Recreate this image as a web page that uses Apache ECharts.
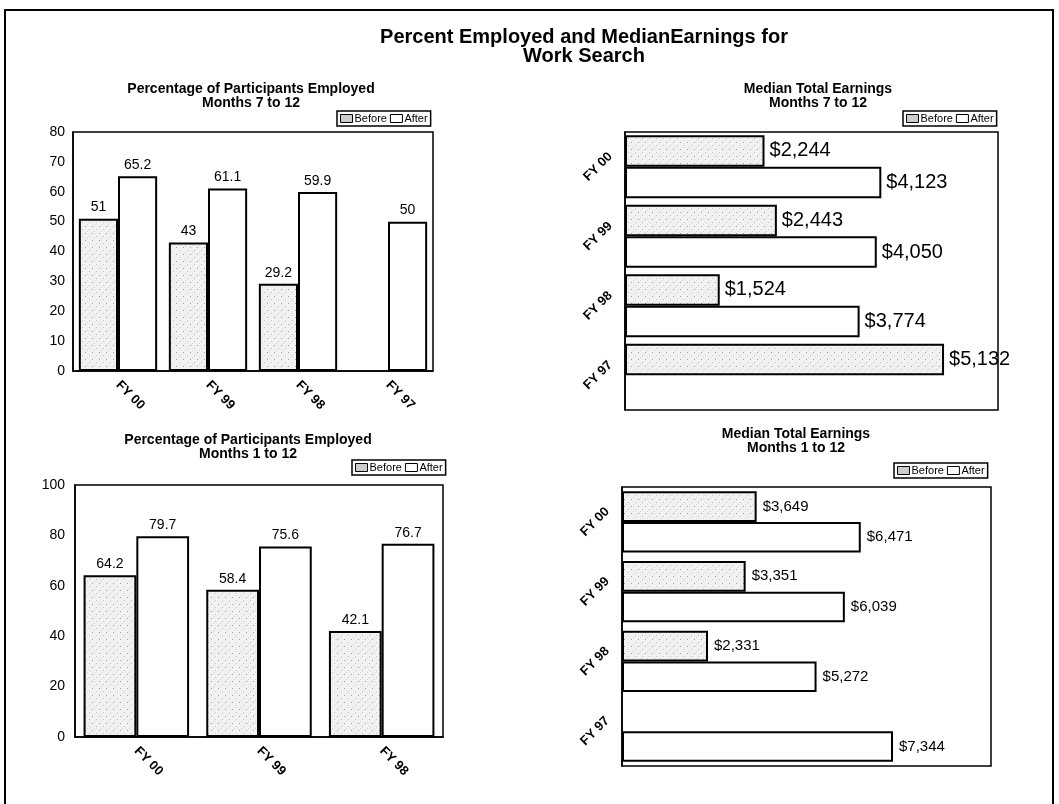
<!DOCTYPE html>
<html>
<head>
<meta charset="utf-8">
<script src="https://cdn.jsdelivr.net/npm/echarts@6/dist/echarts.min.js"></script>
<style>
  html, body { margin: 0; padding: 0; background: #fff; }
  #chart { width: 1059px; height: 804px; }
  #frame { position: absolute; left: 4px; top: 9px; width: 1046px; height: 800px; border: 2px solid #000; pointer-events: none; }
</style>
</head>
<body>
<div id="chart"></div>
<div id="frame"></div>
<script>
// ---- data ----
const pctCategories712 = ['FY 00', 'FY 99', 'FY 98', 'FY 97'];
const pctBefore712 = [51, 43, 29.2, null];
const pctAfter712 = [65.2, 61.1, 59.9, 50];
const pctTicks712 = [0, 10, 20, 30, 40, 50, 60, 70, 80];

const earnCategories712 = ['FY 00', 'FY 99', 'FY 98', 'FY 97'];
const earnBefore712 = [2244, 2443, 1524, 5132];
const earnAfter712 = [4123, 4050, 3774, null];
const earnMax712 = 6000;

const pctCategories112 = ['FY 00', 'FY 99', 'FY 98'];
const pctBefore112 = [64.2, 58.4, 42.1];
const pctAfter112 = [79.7, 75.6, 76.7];
const pctTicks112 = [0, 20, 40, 60, 80, 100];

const earnCategories112 = ['FY 00', 'FY 99', 'FY 98', 'FY 97'];
const earnBefore112 = [3649, 3351, 2331, null];
const earnAfter112 = [6471, 6039, 5272, 7344];
const earnMax112 = 10000;

// ---- styles ----
const FONT = '"Liberation Sans", Arial, Helvetica, sans-serif';
function makePattern() {
  const c = document.createElement('canvas');
  c.width = 7; c.height = 7;
  const g = c.getContext('2d');
  g.fillStyle = '#f1f1f1'; g.fillRect(0, 0, 7, 7);
  g.fillStyle = '#a0a0a0'; g.fillRect(1, 2, 1, 1);
  g.fillStyle = '#c4c4c4'; g.fillRect(5, 5, 1, 1);
  g.fillStyle = '#d4d4d4'; g.fillRect(3, 0, 1, 1);
  return c;
}
const beforeFill = { image: makePattern(), repeat: 'repeat' };
const beforeStyle = { color: beforeFill, borderColor: '#000', borderWidth: 2 };
const afterStyle = { color: '#fff', borderColor: '#000', borderWidth: 2 };

const pctFmt = p => (p.value == null ? '' : String(p.value));
const dollarFmt = p => (p.value == null ? '' : '$' + Number(p.value).toLocaleString('en-US'));

function subTitle(text, x, y) {
  return {
    text: text, left: x, top: y, textAlign: 'center',
    textStyle: { fontFamily: FONT, fontSize: 14, fontWeight: 'bold', color: '#000', lineHeight: 14 }
  };
}
function legendAt(x, y) {
  return {
    left: x, top: y, orient: 'horizontal',
    data: [
      { name: 'Before', itemStyle: { color: '#cccccc', borderColor: '#000', borderWidth: 1 } },
      { name: 'After', itemStyle: { color: '#ffffff', borderColor: '#000', borderWidth: 1 } }
    ],
    icon: 'rect',
    itemWidth: 12, itemHeight: 8, itemGap: 3,
    padding: [2, 3, 2, 3],
    borderColor: '#000', borderWidth: 1.5,
    selectedMode: false,
    textStyle: { fontFamily: FONT, fontSize: 11, color: '#000', padding: [0, 0, 0, -3] }
  };
}
const gridBox = { show: true, borderColor: '#000', borderWidth: 1.5, backgroundColor: 'transparent', containLabel: false };
const catLabelX = { rotate: -45, margin: 12, fontFamily: FONT, fontSize: 13, fontWeight: 'bold', color: '#000' };
const catLabelY = { rotate: 45, align: 'center', margin: 27, fontFamily: FONT, fontSize: 13, fontWeight: 'bold', color: '#000' };

const chart = echarts.init(document.getElementById('chart'), null, { renderer: 'canvas' });
chart.setOption({
  animation: false,
  backgroundColor: '#fff',
  title: [
    { text: 'Percent Employed and MedianEarnings for\nWork Search', left: 579, top: 23, textAlign: 'center',
      textStyle: { fontFamily: FONT, fontSize: 20, fontWeight: 'bold', color: '#000', lineHeight: 19 } },
    subTitle('Percentage of Participants Employed\nMonths 7 to 12', 246, 77),
    subTitle('Median Total Earnings\nMonths 7 to 12', 813, 77),
    subTitle('Percentage of Participants Employed\nMonths 1 to 12', 243, 428),
    subTitle('Median Total Earnings\nMonths 1 to 12', 791, 422)
  ],
  legend: [legendAt(337, 111), legendAt(903, 111), legendAt(352, 460), legendAt(894, 463)],
  grid: [
    Object.assign({ left: 73, top: 132, width: 360, height: 239 }, gridBox),
    Object.assign({ left: 625, top: 132, width: 373, height: 278 }, gridBox),
    Object.assign({ left: 75, top: 485, width: 368, height: 252 }, gridBox),
    Object.assign({ left: 622, top: 487, width: 369, height: 279 }, gridBox)
  ],
  xAxis: [
    { gridIndex: 0, type: 'category', data: pctCategories712,
      axisLine: { lineStyle: { color: '#000', width: 1.5 } }, axisTick: { show: false }, axisLabel: catLabelX },
    { gridIndex: 1, type: 'value', min: 0, max: earnMax712, show: false, splitLine: { show: false } },
    { gridIndex: 2, type: 'category', data: pctCategories112,
      axisLine: { lineStyle: { color: '#000', width: 1.5 } }, axisTick: { show: false }, axisLabel: catLabelX },
    { gridIndex: 3, type: 'value', min: 0, max: earnMax112, show: false, splitLine: { show: false } }
  ],
  yAxis: [
    { gridIndex: 0, type: 'value', min: pctTicks712[0], max: pctTicks712[pctTicks712.length - 1],
      interval: pctTicks712[1] - pctTicks712[0],
      axisLine: { show: true, lineStyle: { color: '#000', width: 1.5 } }, axisTick: { show: false }, splitLine: { show: false },
      axisLabel: { margin: 8, fontFamily: FONT, fontSize: 14, color: '#000' } },
    { gridIndex: 1, type: 'category', data: earnCategories712, inverse: true,
      axisLine: { lineStyle: { color: '#000', width: 1.5 } }, axisTick: { show: false }, axisLabel: catLabelY },
    { gridIndex: 2, type: 'value', min: pctTicks112[0], max: pctTicks112[pctTicks112.length - 1],
      interval: pctTicks112[1] - pctTicks112[0],
      axisLine: { show: true, lineStyle: { color: '#000', width: 1.5 } }, axisTick: { show: false }, splitLine: { show: false },
      axisLabel: { margin: 10, fontFamily: FONT, fontSize: 14, color: '#000' } },
    { gridIndex: 3, type: 'category', data: earnCategories112, inverse: true,
      axisLine: { lineStyle: { color: '#000', width: 1.5 } }, axisTick: { show: false }, axisLabel: catLabelY }
  ],
  series: [
    { name: 'Before', type: 'bar', xAxisIndex: 0, yAxisIndex: 0, data: pctBefore712, itemStyle: beforeStyle,
      barGap: '0%', barCategoryGap: '13%',
      label: { show: true, position: 'top', distance: 4, formatter: pctFmt, fontFamily: FONT, fontSize: 14, color: '#000' } },
    { name: 'After', type: 'bar', xAxisIndex: 0, yAxisIndex: 0, data: pctAfter712, itemStyle: afterStyle,
      barGap: '0%', barCategoryGap: '13%',
      label: { show: true, position: 'top', distance: 4, formatter: pctFmt, fontFamily: FONT, fontSize: 14, color: '#000' } },

    { name: 'Before', type: 'bar', xAxisIndex: 1, yAxisIndex: 1, data: earnBefore712, itemStyle: beforeStyle,
      barGap: '0%', barCategoryGap: '9%',
      label: { show: true, position: 'right', distance: 5, formatter: dollarFmt, fontFamily: FONT, fontSize: 20, color: '#000' } },
    { name: 'After', type: 'bar', xAxisIndex: 1, yAxisIndex: 1, data: earnAfter712, itemStyle: afterStyle,
      barGap: '0%', barCategoryGap: '9%',
      label: { show: true, position: 'right', distance: 5, formatter: dollarFmt, fontFamily: FONT, fontSize: 20, color: '#000' } },

    { name: 'Before', type: 'bar', xAxisIndex: 2, yAxisIndex: 2, data: pctBefore112, itemStyle: beforeStyle,
      barGap: '0%', barCategoryGap: '14%',
      label: { show: true, position: 'top', distance: 4, formatter: pctFmt, fontFamily: FONT, fontSize: 14, color: '#000' } },
    { name: 'After', type: 'bar', xAxisIndex: 2, yAxisIndex: 2, data: pctAfter112, itemStyle: afterStyle,
      barGap: '0%', barCategoryGap: '14%',
      label: { show: true, position: 'top', distance: 4, formatter: pctFmt, fontFamily: FONT, fontSize: 14, color: '#000' } },

    { name: 'Before', type: 'bar', xAxisIndex: 3, yAxisIndex: 3, data: earnBefore112, itemStyle: beforeStyle,
      barGap: '0%', barCategoryGap: '12%',
      label: { show: true, position: 'right', distance: 6, formatter: dollarFmt, fontFamily: FONT, fontSize: 15, color: '#000' } },
    { name: 'After', type: 'bar', xAxisIndex: 3, yAxisIndex: 3, data: earnAfter112, itemStyle: afterStyle,
      barGap: '0%', barCategoryGap: '12%',
      label: { show: true, position: 'right', distance: 6, formatter: dollarFmt, fontFamily: FONT, fontSize: 15, color: '#000' } }
  ]
});
</script>
</body>
</html>
